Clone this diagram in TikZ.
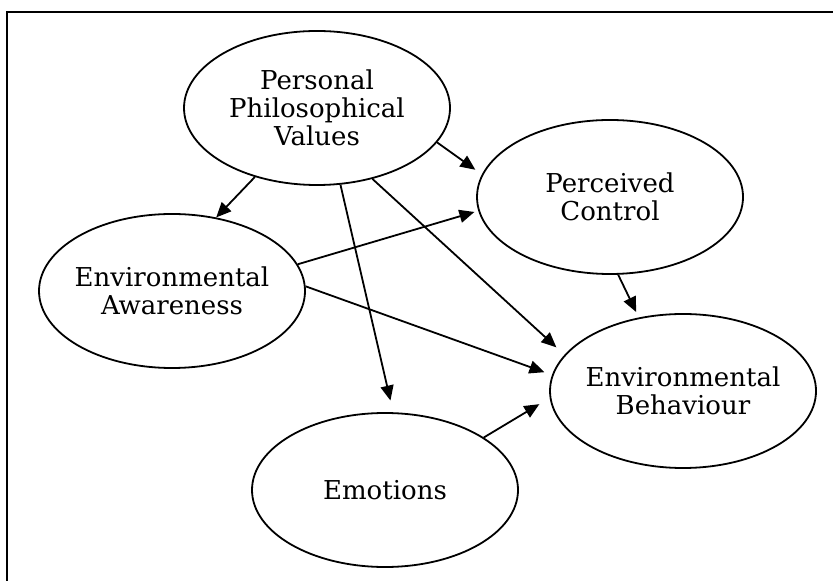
\documentclass[tikz,border=0pt]{standalone}
\usepackage{fontspec}
\setmainfont{DejaVu Serif}
\usetikzlibrary{arrows.meta,shapes.geometric}

\begin{document}
\begin{tikzpicture}[x=0.5pt,y=-0.5pt,
    factor/.style={draw,ellipse,line width=0.9pt,inner xsep=-3pt,inner ysep=0pt,
      minimum width=133pt,minimum height=77pt,align=center,
      font=\fontsize{13}{14}\selectfont},
    link/.style={line width=0.9pt,->,>={Triangle[length=7.5pt,width=6.5pt]}}]
      \useasboundingbox (0,0) rectangle (833,581);
      % frame, cut off at the right and at the bottom
      \draw[line width=1pt] (7,581) -- (7,12) -- (833,12);
      % the five factors
      \node[factor] (values) at (317,108) {Personal\\Philosophical\\Values};
      \node[factor] (aware) at (172,291) {Environmental\\Awareness};
      \node[factor] (control) at (610,197) {Perceived\\Control};
      \node[factor] (emotions) at (385,490) {Emotions};
      \node[factor] (behav) at (683,391) {Environmental\\Behaviour};
      % links between them
      \draw[link,shorten >=4pt] (values.-16) -- (control.170);
      \draw[link] (values.228) -- (aware.59);
      \draw[link,shorten >=6pt] (values.-73) -- (emotions.84);
      \draw[link,shorten >=5.5pt] (values.-52) -- (behav.163);
      \draw[link,shorten >=2pt] (aware.12) -- (control.186);
      \draw[link,shorten >=4pt] (aware.2) -- (behav.173);
      \draw[link,shorten >=3pt] (control.-84) -- (behav.121);
      \draw[link,shorten >=6pt] (emotions.28) -- (behav.183);
    \end{tikzpicture}
\end{document}
